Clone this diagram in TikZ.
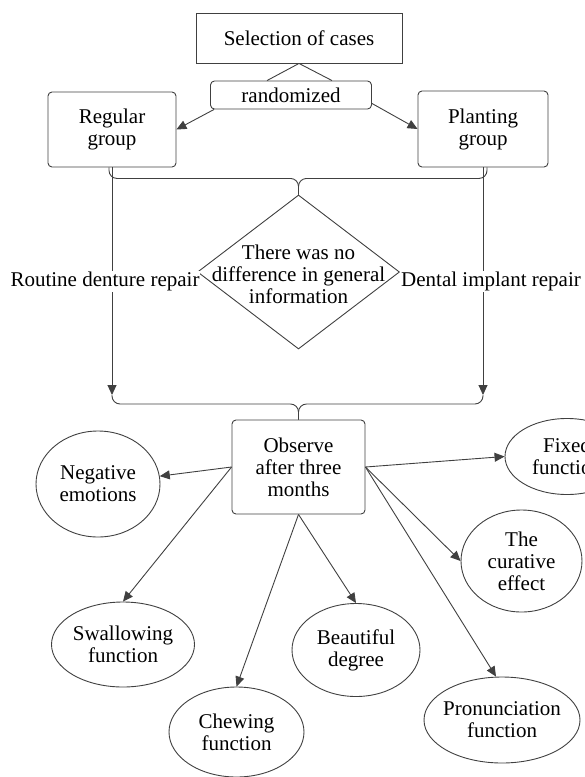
\documentclass[tikz,border=0pt]{standalone}
\usepackage{fontspec}
\setmainfont{Liberation Serif}
\usetikzlibrary{shapes.geometric, arrows.meta}
\definecolor{linegray}{HTML}{404040}

\begin{document}
\begin{tikzpicture}[
    x=1pt, y=-1pt,
    line width=0.9pt,
    font=\fontsize{21}{22}\selectfont,
    box/.style = {rectangle, draw=linegray, minimum width=206pt, minimum height=50pt, align=center},
    rbox/.style = {rectangle, rounded corners=4pt, draw=linegray, align=center},
    oval/.style = {ellipse, draw=linegray, align=center, inner sep=-10pt},
    decision/.style = {diamond, draw=linegray, inner sep=0pt, minimum width=202pt, minimum height=154pt},
    lbl/.style = {fill=white, inner sep=1pt},
    link/.style = {draw=linegray},
    brace/.style = {draw=linegray, rounded corners=8pt},
    arrow/.style = {draw=linegray, -{Triangle[length=10pt, width=9pt]}}
]
\useasboundingbox (0,0) rectangle (585,777);
\clip (0,0) rectangle (585,777);

% Define nodes
\node[box] (select) at (299,38) {Selection of cases};
\node[rbox, minimum width=161pt, minimum height=28pt, inner sep=0pt] (rand) at (291,95) {randomized};
\node[rbox, minimum width=128pt, minimum height=75pt] (regular) at (112,129.5) {Regular\\group};
\node[rbox, minimum width=130pt, minimum height=76pt] (planting) at (483,129) {Planting\\group};
\node[decision] (diam) at (298.5,272) {};
\node[align=center] (difftext) at (298.5,274) {There was no\\difference in general\\information};
\node[rbox, minimum width=133pt, minimum height=94pt] (observe) at (298.5,467) {Observe\\after three\\months};

\node[oval, minimum width=124pt, minimum height=106pt] (neg) at (98,484) {Negative\\emotions};
\node[oval, minimum width=143pt, minimum height=85pt] (swallow) at (123,644.5) {Swallowing\\function};
\node[oval, minimum width=135pt, minimum height=90pt] (chew) at (236.5,732) {Chewing\\function};
\node[oval, minimum width=128pt, minimum height=93pt] (beaut) at (356,650) {Beautiful\\degree};
\node[oval, minimum width=156pt, minimum height=86pt] (pron) at (502,720) {Pronunciation\\function};
\node[oval, minimum width=121pt, minimum height=102pt] (cur) at (521.5,561) {The\\curative\\effect};
\node[oval, minimum width=124pt, minimum height=76pt] (fixed) at (567,456.5) {Fixed\\function};

\coordinate (ltip) at (112,395);
\coordinate (rtip) at (483,395);

% Draw arrows
\draw[link] (select.south) -- ([xshift=-24pt]rand.north);
\draw[link] (select.south) -- ([xshift=41pt]rand.north);
\draw[arrow] ([xshift=4pt]rand.south west) -- (regular.east);
\draw[arrow] ([yshift=6pt]rand.south east) -- (planting.west);

\draw[brace] ([xshift=-3pt]regular.south) -- ++(0,11) -| (diam.north);
\draw[brace] ([xshift=4pt]planting.south) -- ++(0,11) -| (diam.north);
\draw[arrow] (regular.south) -- node[lbl, xshift=-7pt] {Routine denture repair} (ltip);
\draw[arrow] (planting.south) -- node[lbl, xshift=8pt] {Dental implant repair} (rtip);
\draw[brace] (ltip) -- ++(0,9) -| (observe.north);
\draw[brace] (rtip) -- ++(0,9) -| (observe.north);

\draw[arrow] (observe.west) -- (neg);
\draw[arrow] (observe.west) -- (swallow.north);
\draw[arrow] (observe.south) -- (chew.north);
\draw[arrow] (observe.south) -- (beaut.north);
\draw[arrow] (observe.east) -- (fixed.west);
\draw[arrow] (observe.east) -- (cur.west);
\draw[arrow] (observe.east) -- ([xshift=-6pt]pron.north);

\end{tikzpicture}
\end{document}
